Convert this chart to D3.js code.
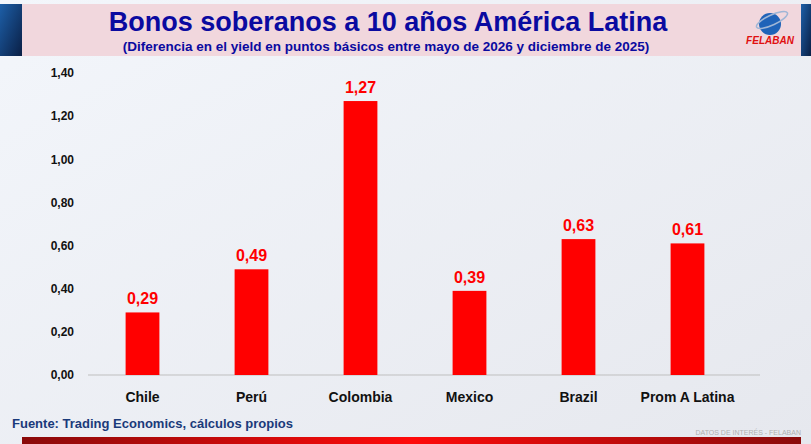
<!DOCTYPE html>
<html>
<head>
<script src="https://d3js.org/d3.v7.min.js"></script>
<style>
  body { margin: 0; background: #fff; }
  svg { display: block; font-family: Arial, "Liberation Sans", sans-serif; }
</style>
</head>
<body>
<div id="chart"></div>
<script>
const categories = ['Chile', 'Perú', 'Colombia', 'Mexico', 'Brazil', 'Prom A Latina'];
const values = [0.29, 0.49, 1.27, 0.39, 0.63, 0.61];
const yTicks = [0, 0.2, 0.4, 0.6, 0.8, 1.0, 1.2, 1.4];

const W = 811, H = 444;
const svg = d3.select('#chart').append('svg').attr('width', W).attr('height', H);
const defs = svg.append('defs');

const bg = defs.append('linearGradient').attr('id', 'bg').attr('x1', 0).attr('x2', 1).attr('y1', 0).attr('y2', 1);
bg.append('stop').attr('offset', 0).attr('stop-color', '#f3f6fb');
bg.append('stop').attr('offset', 1).attr('stop-color', '#e6e8ee');
svg.append('rect').attr('width', W).attr('height', H).attr('fill', 'url(#bg)');

// side strips
const side = defs.append('linearGradient').attr('id', 'side').attr('x1', 0).attr('x2', 1).attr('y1', 0).attr('y2', 1);
side.append('stop').attr('offset', 0).attr('stop-color', '#1d5fa8');
side.append('stop').attr('offset', 1).attr('stop-color', '#0a1f45');
svg.append('rect').attr('x', 0).attr('y', 4).attr('width', 22).attr('height', 52).attr('fill', 'url(#side)');
svg.append('rect').attr('x', 801).attr('y', 4).attr('width', 10).attr('height', 52).attr('fill', 'url(#side)');

// header band
svg.append('rect').attr('x', 22).attr('y', 4).attr('width', 779).attr('height', 52).attr('fill', '#f1d7dd');
svg.append('text').attr('x', 388).attr('y', 31).attr('text-anchor', 'middle')
  .attr('font-size', 27).attr('font-weight', 'bold').attr('fill', '#0a0aa0')
  .text('Bonos soberanos a 10 años América Latina');
svg.append('text').attr('x', 386).attr('y', 51).attr('text-anchor', 'middle')
  .attr('font-size', 13.5).attr('font-weight', 'bold').attr('fill', '#0a0aa0')
  .text('(Diferencia en el yield en puntos básicos entre mayo de 2026 y diciembre de 2025)');

// logo
svg.append('circle').attr('cx', 770).attr('cy', 24).attr('r', 11).attr('fill', '#1f63b8');
svg.append('ellipse').attr('cx', 772).attr('cy', 20).attr('rx', 17).attr('ry', 5)
  .attr('fill', 'none').attr('stroke', '#9fb6d6').attr('stroke-width', 1.5).attr('transform', 'rotate(-25 772 20)');
svg.append('text').attr('x', 770).attr('y', 44).attr('text-anchor', 'middle')
  .attr('font-size', 10).attr('font-weight', 'bold').attr('font-style', 'italic').attr('fill', '#e01010').text('FELABAN');

// chart
const x = d3.scaleBand().domain(categories).range([88, 742]).paddingInner(0.69).paddingOuter(0.345);
const y = d3.scaleLinear().domain([0, 1.4]).range([375, 73]);
const fmt = d => d3.format('.2f')(d).replace('.', ',');

const yAxis = svg.append('g').attr('transform', 'translate(88,0)')
  .call(d3.axisLeft(y).tickValues(yTicks).tickFormat(fmt).tickSize(0).tickPadding(14));
yAxis.select('.domain').remove();
yAxis.selectAll('text').attr('font-size', 12).attr('font-weight', 'bold').attr('fill', '#111')
  .attr('font-family', 'Arial, "Liberation Sans", sans-serif');

svg.append('line').attr('x1', 88).attr('x2', 760).attr('y1', y(0)).attr('y2', y(0))
  .attr('stroke', '#bfbfbf').attr('stroke-width', 1);

svg.selectAll('.bar').data(values).join('rect')
  .attr('x', (d, i) => x(categories[i])).attr('width', x.bandwidth())
  .attr('y', d => y(d)).attr('height', d => y(0) - y(d)).attr('fill', '#ff0000');

svg.selectAll('.lbl').data(values).join('text')
  .attr('x', (d, i) => x(categories[i]) + x.bandwidth() / 2).attr('y', d => y(d) - 8)
  .attr('text-anchor', 'middle').attr('font-size', 16).attr('font-weight', 'bold').attr('fill', '#ff0000')
  .text(fmt);

svg.selectAll('.cat').data(categories).join('text')
  .attr('x', d => x(d) + x.bandwidth() / 2).attr('y', 402)
  .attr('text-anchor', 'middle').attr('font-size', 14).attr('font-weight', 'bold').attr('fill', '#111')
  .text(d => d);

svg.append('text').attr('x', 12).attr('y', 428).attr('font-size', 13).attr('font-weight', 'bold')
  .attr('fill', '#1a3a7a').text('Fuente: Trading Economics, cálculos propios');
svg.append('text').attr('x', 801).attr('y', 435).attr('text-anchor', 'end').attr('font-size', 7)
  .attr('fill', '#b0b0b0').text('DATOS DE INTERÉS - FELABAN');

const foot = defs.append('linearGradient').attr('id', 'foot');
foot.append('stop').attr('offset', 0).attr('stop-color', '#8a0a0a');
foot.append('stop').attr('offset', 0.5).attr('stop-color', '#ff0a0a');
foot.append('stop').attr('offset', 1).attr('stop-color', '#8a0a0a');
svg.append('rect').attr('x', 22).attr('y', 437).attr('width', 779).attr('height', 7).attr('fill', 'url(#foot)');
</script>
</body>
</html>
